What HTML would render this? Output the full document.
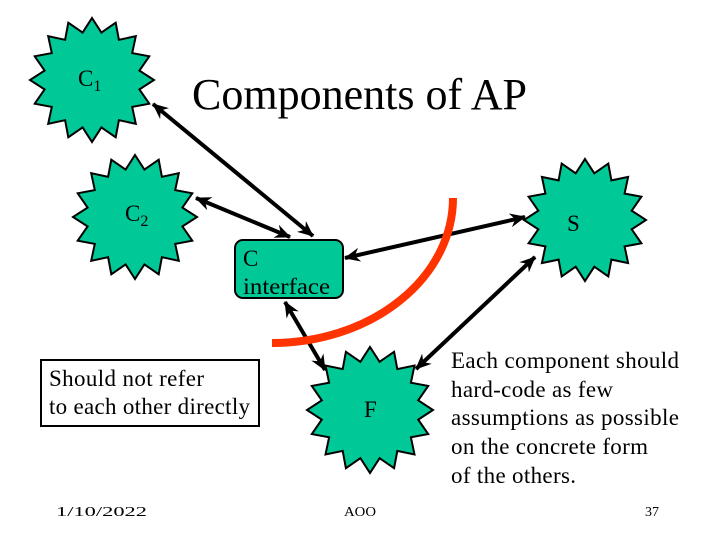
<!DOCTYPE html>
<html><head><style>
body{margin:0;width:720px;height:540px;background:#fff;overflow:hidden;font-family:"Liberation Serif",serif}
</style></head><body>
<svg width="720" height="540" xmlns="http://www.w3.org/2000/svg">
<defs>
<marker id="b" markerWidth="16" markerHeight="14" refX="15" refY="7" orient="auto-start-reverse" markerUnits="userSpaceOnUse">
<path d="M0,0 L16,7 L0,14 L5,7 Z" fill="#000"/>
</marker>
</defs>
<g id="stars" fill="#00c896" stroke="#000" stroke-width="2"></g>
<rect x="235" y="240" width="108" height="58" rx="8" fill="#00c896" stroke="#000" stroke-width="2"/>
<g stroke="#000" stroke-width="4" fill="none">
<line x1="153" y1="104" x2="313" y2="236" marker-start="url(#b)" marker-end="url(#b)"/>
<line x1="196" y1="198" x2="290" y2="237" marker-start="url(#b)" marker-end="url(#b)"/>
<line x1="345" y1="258" x2="525" y2="217" marker-start="url(#b)" marker-end="url(#b)"/>
<line x1="416" y1="369" x2="535" y2="257" marker-start="url(#b)" marker-end="url(#b)"/>
<line x1="285" y1="302" x2="325" y2="370" marker-start="url(#b)" marker-end="url(#b)"/>
</g>
<path d="M453,198 A181,145 0 0 1 272,343" stroke="#ff3300" stroke-width="8" fill="none"/>
<g font-size="23" fill="#000">
<text x="78" y="86">C<tspan font-size="16" dy="5">1</tspan></text>
<text x="125" y="221">C<tspan font-size="16" dy="5">2</tspan></text>
<text x="567" y="231">S</text>
<text x="364" y="417">F</text>
<text x="243" y="266">C</text>
<text x="243" y="294" textLength="87" lengthAdjust="spacingAndGlyphs">interface</text>
</g>
<text x="192" y="109" font-size="44" textLength="335" lengthAdjust="spacingAndGlyphs">Components of AP</text>
<rect x="41" y="360" width="218" height="66" fill="#fff" stroke="#000" stroke-width="2"/>
<g font-size="23" lengthAdjust="spacingAndGlyphs">
<text x="49" y="386" textLength="155">Should not refer</text>
<text x="49" y="414" textLength="201">to each other directly</text>
<text x="451" y="368" textLength="228">Each component should</text>
<text x="451" y="397" textLength="162">hard-code as few</text>
<text x="451" y="425" textLength="228">assumptions as possible</text>
<text x="451" y="454" textLength="197">on the concrete form</text>
<text x="451" y="483" textLength="125">of the others.</text>
</g>
<g font-size="14">
<text x="56" y="516" textLength="91" lengthAdjust="spacingAndGlyphs">1/10/2022</text>
<text x="344" y="516" textLength="32" lengthAdjust="spacingAndGlyphs">AOO</text>
<text x="645" y="516">37</text>
</g>
</svg>
<script>
var g=document.getElementById('stars');
[[92,80,62],[135,217,62],[585,220,61],[370,410,63]].forEach(function(s){
var p=[],n=16;for(var i=0;i<2*n;i++){var r=i%2?s[2]*0.78:s[2];var a=Math.PI*i/n-Math.PI/2;p.push((s[0]+r*Math.cos(a)).toFixed(1)+','+(s[1]+r*Math.sin(a)).toFixed(1));}
var e=document.createElementNS('http://www.w3.org/2000/svg','polygon');e.setAttribute('points',p.join(' '));g.appendChild(e);});
</script>
</body></html>
